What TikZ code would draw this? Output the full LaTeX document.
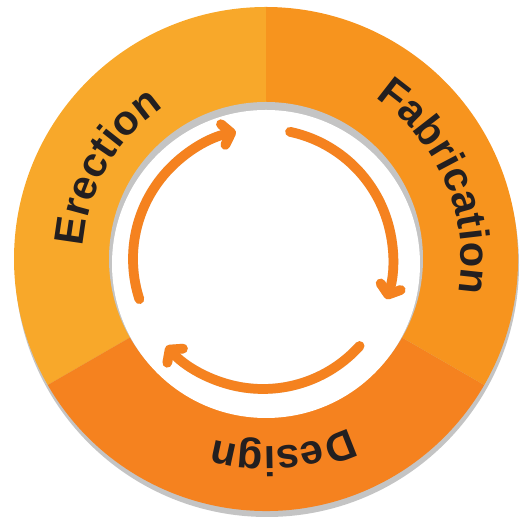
\documentclass[tikz,border=0pt]{standalone}
\usepackage{fontspec}
\setmainfont{Liberation Sans}
\usetikzlibrary{arrows.meta,decorations.text}

\definecolor{erectcol}{HTML}{F8A82A}
\definecolor{fabcol}{HTML}{F7941E}
\definecolor{designcol}{HTML}{F5821F}
\definecolor{shadowgray}{HTML}{C4C4C4}
\definecolor{textdark}{HTML}{231F20}
\newcommand{\ringfont}{\fontsize{35.5}{40}\selectfont\bfseries}

\begin{document}
\begin{tikzpicture}[
        x=0.3mm, y=0.3mm,
        cyclearrow/.style={draw=designcol, line width=8.3pt, line cap=round,
            -{Straight Barb[round, length=7pt, width=18pt]}},
        arrowshadow/.style={cyclearrow, draw=shadowgray!45},
        ringlabel/.style={decorate, decoration={text along path, text align=center,
            text color=textdark, text={|\ringfont|#1}}}
    ]
        \useasboundingbox (0,0) rectangle (531,524);
        \coordinate (c) at (266,265);
        \coordinate (a) at (263,265);

        % Ring with shadow
        \fill[shadowgray] (267,259) circle (252);
        \fill[erectcol] (c) -- ([shift={(90:252)}]c) arc[start angle=90, end angle=210, radius=252] -- cycle;
        \fill[designcol] (c) -- ([shift={(210:252)}]c) arc[start angle=210, end angle=330, radius=252] -- cycle;
        \fill[fabcol] (c) -- ([shift={(330:252)}]c) arc[start angle=330, end angle=450, radius=252] -- cycle;

        % Hole
        \fill[shadowgray] (c) circle (157);
        \fill[white] (266,260) circle (154);

        % Cycle arrows
        \begin{scope}[shift={(1,-2)}]
            \draw[arrowshadow] ([shift={(78:130)}]a) arc[start angle=78, end angle=-18, radius=130];
            \draw[arrowshadow] ([shift={(-42:130)}]a) arc[start angle=-42, end angle=-138, radius=130];
            \draw[arrowshadow] ([shift={(198:130)}]a) arc[start angle=198, end angle=102, radius=130];
        \end{scope}
        \draw[cyclearrow] ([shift={(78:130)}]a) arc[start angle=78, end angle=-18, radius=130];
        \draw[cyclearrow] ([shift={(-42:130)}]a) arc[start angle=-42, end angle=-138, radius=130];
        \draw[cyclearrow] ([shift={(198:130)}]a) arc[start angle=198, end angle=102, radius=130];

        % Labels
        \path[ringlabel=Erection] ([shift={(210:183)}]c) arc[start angle=210, end angle=90, radius=183];
        \path[ringlabel=Fabrication] ([shift={(83:195)}]c) arc[start angle=83, end angle=-37, radius=195];
        \path[ringlabel=Design] ([shift={(-25:188)}]c) arc[start angle=-25, end angle=-145, radius=188];
    \end{tikzpicture}
\end{document}
